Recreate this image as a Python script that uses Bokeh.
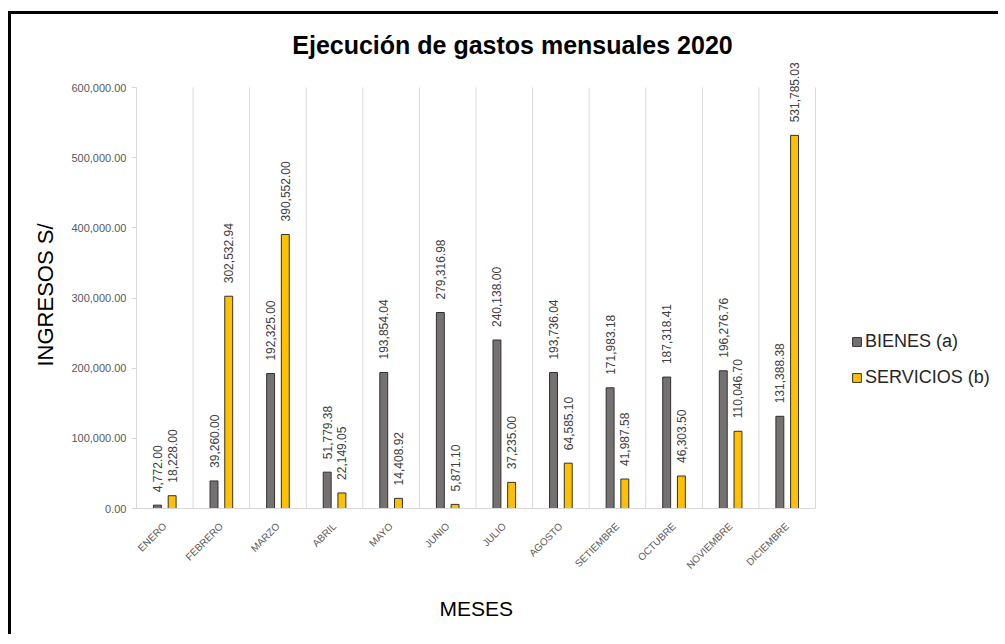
import math
from bokeh.plotting import figure
from bokeh.models import (ColumnDataSource, FixedTicker, NumeralTickFormatter, Legend,
                          LegendItem, Range1d, Label, Title)
from bokeh.transform import dodge
from bokeh.core.properties import value
from bokeh.embed import file_html
from bokeh.resources import INLINE

months = ["ENERO", "FEBRERO", "MARZO", "ABRIL", "MAYO", "JUNIO", "JULIO",
          "AGOSTO", "SETIEMBRE", "OCTUBRE", "NOVIEMBRE", "DICIEMBRE"]
bienes = [4772.00, 39260.00, 192325.00, 51779.38, 193854.04, 279316.98,
          240138.00, 193736.04, 171983.18, 187318.41, 196276.76, 131388.38]
servicios = [18228.00, 302532.94, 390552.00, 22149.05, 14408.92, 5871.10,
             37235.00, 64585.10, 41987.58, 46303.50, 110046.70, 531785.03]
series_names = ["BIENES (a)", "SERVICIOS (b)"]
y_ticks = [0, 100000, 200000, 300000, 400000, 500000, 600000]
title_text = "Ejecución de gastos mensuales 2020"
x_title = "MESES"
y_title = "INGRESOS S/"

FONT = "Liberation Sans"
GRAY = "#767171"
GOLD = "#FFC000"
EDGE = "#303030"
GRID = "#D9D9D9"

# layout (page pixels)
W, H = 990, 623
ORIGIN_X, ORIGIN_Y = 12, 15          # page position of the figure's inner origin
AXIS_TOP_PX = 88                     # page y of the top tick
FRAME_TOP_PX = 30                    # frame extends higher to give room to labels
FRAME_BOTTOM_PX = 509
FRAME_LEFT_PX = 137
MONTHS_RIGHT_PX = 816
RIGHT_BORDER = 2
FRAME_RIGHT_PX = ORIGIN_X + W - RIGHT_BORDER

y_top = y_ticks[-1]
y_end = y_top * (FRAME_BOTTOM_PX - FRAME_TOP_PX) / (FRAME_BOTTOM_PX - AXIS_TOP_PX)
n = len(months)
x_end = -0.5 + n * (FRAME_RIGHT_PX - FRAME_LEFT_PX) / (MONTHS_RIGHT_PX - FRAME_LEFT_PX)

idx = list(range(n))
src = ColumnDataSource(dict(
    x=idx, bienes=bienes, servicios=servicios,
    lb=[f"{v:,.2f}" for v in bienes],
    ls=[f"{v:,.2f}" for v in servicios],
))

p = figure(width=W, height=H, output_backend="svg", toolbar_location=None,
           x_range=Range1d(-0.5, x_end), y_range=Range1d(0, y_end),
           min_border_left=FRAME_LEFT_PX - ORIGIN_X, min_border_right=RIGHT_BORDER,
           min_border_top=FRAME_TOP_PX - ORIGIN_Y,
           min_border_bottom=H - (FRAME_BOTTOM_PX - ORIGIN_Y))
p.margin = (11, 0, 0, 8)
p.styles = {"border-left": "3px solid black", "border-top": "3px solid black"}

p.outline_line_color = None
p.background_fill_color = "white"
p.border_fill_color = "white"

# vertical separators between months (stop at the top tick)
bounds = [i - 0.5 for i in range(n + 1)]
p.segment(x0=bounds, y0=[0] * len(bounds), x1=bounds, y1=[y_top] * len(bounds),
          line_color=GRID, line_width=1)

r1 = p.vbar(x=dodge("x", -0.13, range=p.x_range), top="bienes", width=0.14, source=src,
            fill_color=GRAY, line_color=EDGE, line_width=1)
r2 = p.vbar(x=dodge("x", 0.13, range=p.x_range), top="servicios", width=0.14, source=src,
            fill_color=GOLD, line_color=EDGE, line_width=1)

for col, off, ycol in (("lb", -0.13, "bienes"), ("ls", 0.13, "servicios")):
    p.text(x=dodge("x", off, range=p.x_range), y=ycol, text=col, source=src,
           angle=math.pi / 2, text_align="left", text_baseline="middle",
           y_offset=-13, text_font=value(FONT), text_font_size="12px", text_color="#404040")

title = Label(x=513 - FRAME_LEFT_PX, y=FRAME_BOTTOM_PX - 45, x_units="screen", y_units="screen",
              text=title_text, text_align="center", text_baseline="middle", text_font=FONT,
              text_font_size="25px", text_font_style="bold", text_color="#000000")
p.add_layout(title)

# x axis
p.xaxis.bounds = (-0.5, n - 0.5)
p.xaxis.ticker = FixedTicker(ticks=idx)
p.xaxis.major_label_overrides = {i: m for i, m in enumerate(months)}
p.xaxis.major_label_orientation = math.pi / 4
p.xaxis.major_label_text_font = FONT
p.xaxis.major_label_text_font_size = "10px"
p.xaxis.major_label_text_color = "#595959"
p.xaxis.major_label_standoff = 10
p.xaxis.major_tick_line_color = None
p.xaxis.minor_tick_line_color = None
p.xaxis.axis_line_color = GRID

# y axis
p.yaxis.bounds = (0, y_top)
p.yaxis.ticker = FixedTicker(ticks=y_ticks)
p.yaxis.formatter = NumeralTickFormatter(format="0,0.00")
p.yaxis.major_label_text_font = FONT
p.yaxis.major_label_text_font_size = "11px"
p.yaxis.major_label_text_color = "#595959"
p.yaxis.major_label_standoff = 5
p.yaxis.major_tick_line_color = GRID
p.yaxis.major_tick_out = 5
p.yaxis.major_tick_in = 0
p.yaxis.minor_tick_line_color = None
p.yaxis.axis_line_color = GRID

p.xgrid.grid_line_color = None
p.ygrid.grid_line_color = None

# axis titles as side titles, positioned along the month area
xt = Title(text=x_title, align="left", offset=440 - FRAME_LEFT_PX, standoff=34,
           text_font=FONT, text_font_size="21px", text_font_style="normal", text_color="#000000")
p.add_layout(xt, "below")
yt = Title(text=y_title, align="left", offset=FRAME_BOTTOM_PX - 367, standoff=22,
           text_font=FONT, text_font_size="22px", text_font_style="normal", text_color="#000000")
p.add_layout(yt, "left")

legend = Legend(items=[LegendItem(label=series_names[0], renderers=[r1]),
                       LegendItem(label=series_names[1], renderers=[r2])],
                location=(852 - FRAME_LEFT_PX, 120), orientation="vertical",
                glyph_width=11, glyph_height=11, label_standoff=3,
                label_height=20, spacing=15, padding=0, margin=0,
                border_line_color=None, background_fill_alpha=0,
                label_text_font=FONT, label_text_font_size="18px", label_text_color="#262626")
p.add_layout(legend)

open("out.html", "w").write(file_html(p, INLINE))
